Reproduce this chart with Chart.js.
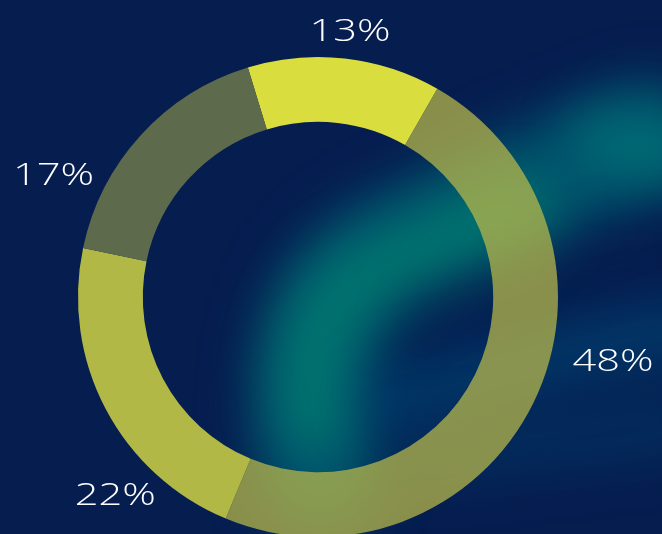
<!DOCTYPE html>
<html>
<head>
<meta charset="utf-8">
<script src="https://cdn.jsdelivr.net/npm/chart.js@4"></script>
<style>
  html, body { margin: 0; padding: 0; background: #061d50; overflow: hidden; }
  #wrap { position: relative; width: 662px; height: 540px; }
</style>
</head>
<body>
<div id="wrap"><canvas id="donut"></canvas></div>
<script>
const labels = ['A', 'B', 'C', 'D'];
const values = [13, 48, 22, 17];
const valueLabels = ['13%', '48%', '22%', '17%'];
const colors = ['#d9de3e', 'rgba(182,181,73,0.75)', '#b1b846', '#5d6b4c'];

// where each label sits: fraction along its arc, distance past the outer edge
const labelFrac = [0.51, 0.42, 0.29, 0.21];
const labelGap = [27, 62, 44, 51];

// blurry teal glow behind the chart
const glowPlugin = {
  id: 'glow',
  beforeDraw(chart) {
    const ctx = chart.ctx;
    ctx.save();
    ctx.fillStyle = '#061d50';
    ctx.fillRect(0, 0, chart.width, chart.height);
    ctx.filter = 'blur(26px)';
    ctx.lineCap = 'round';
    ctx.lineJoin = 'round';

    // broad diagonal band
    ctx.strokeStyle = 'rgba(0,95,115,0.8)';
    ctx.lineWidth = 120;
    ctx.beginPath();
    ctx.moveTo(320, 470);
    ctx.quadraticCurveTo(290, 300, 400, 250);
    ctx.quadraticCurveTo(520, 190, 650, 140);
    ctx.stroke();

    // brighter core
    ctx.strokeStyle = 'rgba(0,125,112,0.85)';
    ctx.lineWidth = 70;
    ctx.beginPath();
    ctx.moveTo(315, 420);
    ctx.quadraticCurveTo(300, 310, 370, 275);
    ctx.quadraticCurveTo(450, 240, 520, 215);
    ctx.stroke();

    ctx.strokeStyle = 'rgba(0,120,120,0.75)';
    ctx.lineWidth = 55;
    ctx.beginPath();
    ctx.moveTo(600, 140);
    ctx.lineTo(675, 150);
    ctx.stroke();

    // fainter lower bands
    ctx.strokeStyle = 'rgba(0,70,115,0.7)';
    ctx.lineWidth = 60;
    ctx.beginPath();
    ctx.moveTo(390, 400);
    ctx.quadraticCurveTo(520, 360, 680, 330);
    ctx.stroke();

    ctx.strokeStyle = 'rgba(0,60,105,0.6)';
    ctx.lineWidth = 50;
    ctx.beginPath();
    ctx.moveTo(420, 455);
    ctx.lineTo(680, 425);
    ctx.stroke();

    // dark gap between bands
    ctx.strokeStyle = 'rgba(6,29,80,0.85)';
    ctx.lineWidth = 26;
    ctx.beginPath();
    ctx.moveTo(410, 320);
    ctx.quadraticCurveTo(530, 260, 662, 240);
    ctx.stroke();
    ctx.restore();
  }
};

const labelPlugin = {
  id: 'outerLabels',
  afterDatasetsDraw(chart) {
    const ctx = chart.ctx;
    const arcs = chart.getDatasetMeta(0).data;
    ctx.save();
    ctx.fillStyle = '#ffffff';
    ctx.textAlign = 'center';
    ctx.textBaseline = 'middle';
    ctx.font = '300 32px "Open Sans", "DejaVu Sans", sans-serif';
    arcs.forEach((arc, i) => {
      const a = arc.startAngle + (arc.endAngle - arc.startAngle) * labelFrac[i];
      const r = arc.outerRadius + labelGap[i];
      const x = arc.x + Math.cos(a) * r;
      const y = arc.y + Math.sin(a) * r;
      ctx.save();
      ctx.translate(x, y);
      ctx.scale(1.3, 1);
      ctx.fillText(valueLabels[i], 0, 0);
      ctx.restore();
    });
    ctx.restore();
  }
};

new Chart(document.getElementById('donut'), {
  type: 'doughnut',
  data: {
    labels,
    datasets: [{
      data: values,
      backgroundColor: colors,
      borderWidth: 0,
      hoverOffset: 0
    }]
  },
  options: {
    responsive: true,
    maintainAspectRatio: false,
    animation: false,
    rotation: -17,
    cutout: '73%',
    layout: { padding: { left: 78, right: 104, top: 57, bottom: 3 } },
    events: [],
    plugins: {
      legend: { display: false },
      tooltip: { enabled: false }
    }
  },
  plugins: [glowPlugin, labelPlugin]
});
</script>
</body>
</html>
